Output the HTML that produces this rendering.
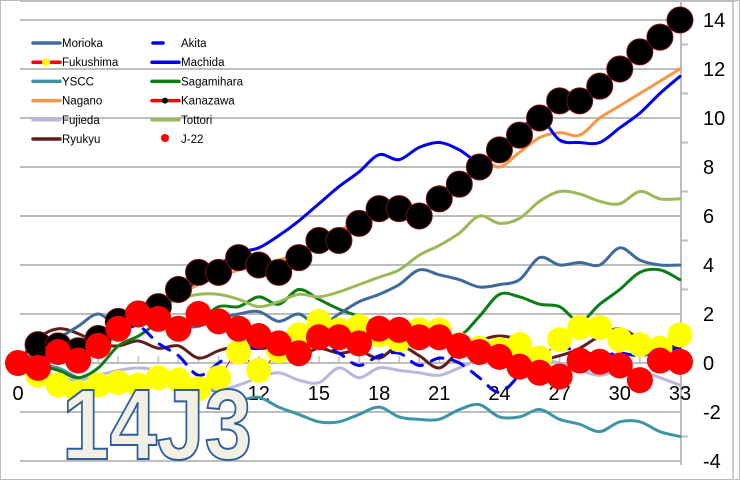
<!DOCTYPE html>
<html><head><meta charset="utf-8"><style>
html,body{margin:0;padding:0;background:#fff;}
svg{display:block;font-family:"Liberation Sans",sans-serif;}
</style></head><body>
<svg id="s" width="740" height="480" viewBox="0 0 740 480" xmlns="http://www.w3.org/2000/svg">
<rect x="0.5" y="0.5" width="739" height="479" fill="#fff" stroke="#bbb"/>
<line x1="733" y1="0" x2="733" y2="480" stroke="#ccc" stroke-width="2"/>
<g id="grid" stroke="#bdbdbd" stroke-width="2"></g>
<g id="lab" font-size="20" fill="#000"></g>
<g id="ser"></g>
<g id="leg" font-size="11.5" fill="#000"></g>
<text x="62" y="459" font-size="100" font-weight="bold" textLength="190" lengthAdjust="spacingAndGlyphs" fill="#f2efe4" stroke="#2e5d9a" stroke-width="2">14J3</text>
</svg>
<script>
var NS="http://www.w3.org/2000/svg";
function X(r){return 18+20.06*r;}
function Y(v){return 363-24.5*v;}
function el(p,t,a,txt){var e=document.createElementNS(NS,t);for(var k in a)e.setAttribute(k,a[k]);if(txt!==undefined)e.textContent=txt;document.getElementById(p).appendChild(e);return e;}
for(var v=-4;v<=14;v+=2){el("grid","line",{x1:20,y1:Y(v),x2:681,y2:Y(v)});
 el("lab","text",{x:703,y:Y(v)+7},String(v));}
for(var v=-3;v<=13;v+=2){el("grid","line",{x1:681,y1:Y(v),x2:688,y2:Y(v)});}
el("grid","line",{x1:20,y1:1,x2:735,y2:1});
el("grid","line",{x1:681,y1:0,x2:681,y2:465});
for(var r=0;r<=33;r++){el("grid","line",{x1:X(r),y1:363,x2:X(r),y2:356,"stroke-width":1.5});}
for(var r=0;r<=33;r+=3){el("lab","text",{x:X(r),y:400,"text-anchor":"middle"},String(r));}
function path(d){var p=d.map(function(v,i){return[X(i),Y(v)];});var s="M"+p[0][0]+","+p[0][1];
 for(var i=0;i<p.length-1;i++){var p0=p[i-1]||p[i],p1=p[i],p2=p[i+1],p3=p[i+2]||p2;
 s+=" C"+(p1[0]+(p2[0]-p0[0])/6)+","+(p1[1]+(p2[1]-p0[1])/6)+" "+(p2[0]-(p3[0]-p1[0])/6)+","+(p2[1]-(p3[1]-p1[1])/6)+" "+p2[0]+","+p2[1];}return s;}
function line(d,c,w,dash){var a={d:path(d),fill:"none",stroke:c,"stroke-width":w,"stroke-linecap":"round"};if(dash)a["stroke-dasharray"]=dash;el("ser","path",a);}
var S={
ysc:[0,-0.1,-0.2,-0.6,-0.65,-0.7,-0.75,-0.8,-0.6,-0.9,-1.2,-1.5,-1.4,-1.8,-2.1,-2.4,-2.4,-2.1,-1.8,-2.2,-2.3,-2.3,-1.9,-1.7,-2.2,-2.2,-1.9,-2.3,-2.5,-2.8,-2.4,-2.4,-2.8,-3.0],
fuj:[0,-0.4,-0.6,-0.7,-0.5,-0.3,-0.2,-0.3,-0.5,-0.8,-1.1,-0.9,-0.6,-0.4,-0.7,-0.8,-0.2,-0.6,-0.2,-0.3,-0.4,-0.5,-0.2,0.1,-0.1,0.6,0.2,0,-0.3,-0.5,-0.3,-0.3,-0.6,-0.9],
ryu:[0,1,1.4,1.2,0.8,0.7,0.9,0.6,0.7,0.2,0.5,0.7,0.6,0.6,0.3,0.6,0.4,0.5,0.2,0.7,0.3,-0.2,0.5,0.9,1.1,0.9,0.2,0.3,0.6,1.1,1.4,1.0,0.8,0.6],
sag:[0,-0.1,-0.3,-0.6,-0.2,0.7,1.1,1.6,1.5,1.7,2.3,2.3,2.7,2.4,3,2.6,2.2,1.9,1.6,1.6,1.4,1.2,1.1,1.9,2.8,2.7,2.4,2.3,1.7,2.4,3.0,3.7,3.8,3.4],
mor:[0,0.5,1,1.5,2,1.5,1.8,1.7,1.5,1.5,1.8,2.0,2.1,1.7,2,1.5,2,2.5,2.8,3.2,3.8,3.6,3.4,3.1,3.2,3.4,4.3,4.0,4.1,4.0,4.7,4.2,4.0,4.0],
tot:[0,0.3,0.6,0.9,1.2,1.6,2,2.3,2.6,2.8,2.8,2.6,2.3,2.5,2.8,2.7,2.9,3.2,3.5,3.8,4.4,4.8,5.3,6,5.7,5.9,6.6,7,6.9,6.6,6.5,7,6.7,6.7],
nag:[0,0.3,0.6,0.9,1.2,1.6,2,2.4,2.8,3.2,3.5,3.8,4,4.2,4.5,5,5.4,5.8,6,6.2,6.2,6.6,7.3,8.3,8,8.6,9.2,9.4,9.3,10,10.5,11,11.5,12],
mac:[0,0.2,0.4,0.6,1,1.3,1.6,2.2,2.8,3.4,4,4.5,4.7,5.2,5.8,6.5,7.2,7.8,8.5,8.3,8.8,9,8.7,8.2,8.5,9.5,10,9.1,9,9,9.6,10.2,11,11.7],
aki:[0,0.3,0.6,0.9,1.1,1.3,1.5,0.8,0.3,-0.5,0,0.6,0.6,0.9,0.9,0.8,0.4,-0.1,0.3,0.4,-0.1,0.2,0,-0.6,-1.2,-0.5,0.3,0.6,0.5,0.3,0.4,0.3,0.5,0.6],
kan:[0,0.75,0.7,0.5,1.0,1.7,2,2.3,3,3.7,3.7,4.3,4,3.7,4.3,5,5,5.7,6.3,6.3,6,6.7,7.3,8,8.7,9.3,10,10.7,10.7,11.3,12,12.7,13.3,14],
j22:[0,-0.2,0.45,0.1,0.7,1.4,2,1.8,1.4,2,1.7,1.4,1.1,0.8,0.4,1.05,1.05,0.8,1.4,1.35,1.05,1.05,0.7,0.45,0.25,-0.15,-0.4,-0.55,0.1,0.05,-0.1,-0.7,0.1,0.05],
fuk:[0,-0.5,-0.9,-1.2,-0.9,-0.8,-0.9,-0.6,-0.7,-1.05,-0.6,0.45,-0.3,0.5,1.15,1.7,1.35,1.5,1.15,0.95,1.35,1.35,0.75,0.6,0.55,0.75,0.2,0.95,1.45,1.45,0.95,0.75,0.6,1.15]
};
line(S.ysc,"#3c94a6",3);line(S.fuj,"#b9b7de",3);line(S.ryu,"#5c1f1a",3);line(S.sag,"#0b7d14",3);
line(S.mor,"#3e6a9c",3);line(S.tot,"#98bb57",3);line(S.nag,"#f79646",3);line(S.mac,"#0000f0",3);
line(S.aki,"#0000f0",3,"12,10");
line(S.fuk,"#ff0000",1);
for(var i=1;i<=33;i++)el("ser","circle",{cx:X(i),cy:Y(S.fuk[i]),r:12.5,fill:"#ffff00"});
line(S.kan,"#ff0000",1.5);
for(var i=1;i<=33;i++)el("ser","circle",{cx:X(i),cy:Y(S.kan[i]),r:13,fill:"#000",stroke:"#7a1010","stroke-width":1});
for(var i=0;i<=33;i++)el("ser","circle",{cx:X(i),cy:Y(S.j22[i]),r:13,fill:"#ff0000"});
var L=[["Morioka","#3e6a9c"],["Fukushima","#ff0000"],["YSCC","#3c94a6"],["Nagano","#f79646"],["Fujieda","#b9b7de"],["Ryukyu","#5c1f1a"]];
var R=[["Akita","#0000f0"],["Machida","#0000f0"],["Sagamihara","#0b7d14"],["Kanazawa","#ff0000"],["Tottori","#98bb57"],["J-22","#ff0000"]];
for(var i=0;i<6;i++){var y=43+19.2*i;
 el("leg","line",{x1:33,y1:y,x2:60,y2:y,stroke:L[i][1],"stroke-width":3.5,"stroke-linecap":"round"});
 el("leg","text",{x:62,y:y+4},L[i][0]);
 if(i==0)el("leg","line",{x1:153,y1:y,x2:163,y2:y,stroke:R[i][1],"stroke-width":3.5,"stroke-linecap":"round"});
 else if(i<5)el("leg","line",{x1:152,y1:y,x2:179,y2:y,stroke:R[i][1],"stroke-width":3.5,"stroke-linecap":"round"});
 else el("leg","circle",{cx:165,cy:y-1,r:4,fill:"#ff0000"});
 el("leg","text",{x:181,y:y+4},R[i][0]);}
el("leg","circle",{cx:46,cy:62.2,r:4,fill:"#ffff00"});
el("leg","circle",{cx:165,cy:100.6,r:3,fill:"#000"});
</script>
</body></html>
